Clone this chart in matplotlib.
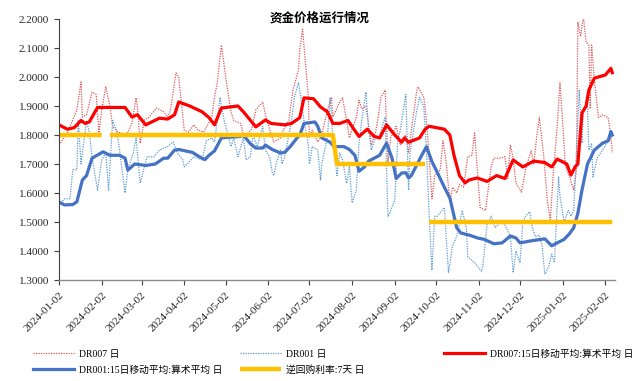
import numpy as np
import pandas as pd
import matplotlib
matplotlib.use("Agg")
import matplotlib.pyplot as plt
import matplotlib.dates as mdates
from matplotlib.lines import Line2D
from matplotlib.ticker import FormatStrFormatter

plt.rcParams['font.family'] = ['Liberation Serif', 'Noto Sans CJK SC', 'DejaVu Sans']

# DR007 日
dr007_dates = ['2024-01-02', '2024-01-08', '2024-01-12', '2024-01-15', '2024-01-18', '2024-01-19', '2024-01-22',
               '2024-01-26', '2024-01-29', '2024-01-31', '2024-02-02', '2024-02-05', '2024-02-08', '2024-02-10',
               '2024-02-14', '2024-02-20', '2024-02-24', '2024-02-27', '2024-02-28', '2024-03-01', '2024-03-04',
               '2024-03-07', '2024-03-13', '2024-03-18', '2024-03-21', '2024-03-23', '2024-03-27', '2024-03-29',
               '2024-04-02', '2024-04-05', '2024-04-09', '2024-04-12', '2024-04-16', '2024-04-19', '2024-04-22',
               '2024-04-24', '2024-04-26', '2024-04-29', '2024-05-03', '2024-05-06', '2024-05-08', '2024-05-13',
               '2024-05-15', '2024-05-17', '2024-05-21', '2024-05-24', '2024-05-29', '2024-05-31', '2024-06-03',
               '2024-06-06', '2024-06-11', '2024-06-13', '2024-06-17', '2024-06-20', '2024-06-24', '2024-06-25',
               '2024-06-26', '2024-06-27', '2024-07-01', '2024-07-02', '2024-07-04', '2024-07-08', '2024-07-11',
               '2024-07-15', '2024-07-18', '2024-07-19', '2024-07-24', '2024-07-26', '2024-07-29', '2024-07-31',
               '2024-08-02', '2024-08-05', '2024-08-07', '2024-08-09', '2024-08-12', '2024-08-14', '2024-08-16',
               '2024-08-19', '2024-08-20', '2024-08-23', '2024-08-26', '2024-08-28', '2024-08-30', '2024-09-03',
               '2024-09-06', '2024-09-10', '2024-09-12', '2024-09-13', '2024-09-18', '2024-09-19', '2024-09-23',
               '2024-09-24', '2024-09-26', '2024-09-29', '2024-10-01', '2024-10-05', '2024-10-07', '2024-10-09',
               '2024-10-12', '2024-10-14', '2024-10-17', '2024-10-19', '2024-10-22', '2024-10-25', '2024-10-28',
               '2024-10-30', '2024-11-03', '2024-11-07', '2024-11-08', '2024-11-11', '2024-11-13', '2024-11-17',
               '2024-11-21', '2024-11-23', '2024-11-25', '2024-11-27', '2024-11-29', '2024-12-03', '2024-12-06',
               '2024-12-10', '2024-12-12', '2024-12-14', '2024-12-16', '2024-12-19', '2024-12-22', '2024-12-24',
               '2024-12-26', '2024-12-29', '2024-12-31', '2025-01-02', '2025-01-04', '2025-01-07', '2025-01-10',
               '2025-01-12', '2025-01-13', '2025-01-15', '2025-01-17', '2025-01-19', '2025-01-21', '2025-01-22',
               '2025-01-23', '2025-01-25', '2025-01-28', '2025-01-31', '2025-02-04', '2025-02-06', '2025-02-07']
dr007 = [1.765, 1.807, 1.852, 1.886, 1.983, 1.862, 1.870,
         1.948, 1.940, 1.807, 1.886, 1.966, 1.900, 1.829,
         1.810, 1.800, 1.840, 1.928, 1.897, 1.772, 1.852,
         1.860, 1.893, 1.880, 1.862, 1.886, 2.014, 2.000,
         1.817, 1.810, 1.835, 1.817, 1.810, 1.835, 1.862,
         1.930, 1.980, 2.110, 1.970, 1.880, 1.850, 1.840,
         1.800, 1.800, 1.820, 1.886, 1.914, 1.870, 1.820,
         1.776, 1.790, 1.817, 1.850, 1.955, 2.024, 2.100,
         2.130, 2.165, 1.940, 1.793, 1.817, 1.776, 1.800,
         1.886, 1.928, 1.862, 1.914, 1.928, 1.850, 1.790,
         1.820, 1.860, 1.920, 1.890, 1.900, 1.835, 1.765,
         1.810, 1.835, 1.930, 1.955, 1.703, 1.790, 1.830,
         1.765, 1.800, 1.738, 1.780, 1.955, 1.966, 1.930,
         1.897, 1.790, 1.580, 1.660, 1.680, 1.780, 1.720,
         1.570, 1.620, 1.600, 1.630, 1.620, 1.725, 1.730,
         1.807, 1.550, 1.540, 1.580, 1.690, 1.720, 1.720,
         1.725, 1.650, 1.765, 1.720, 1.634, 1.603, 1.680,
         1.745, 1.700, 1.790, 1.860, 1.738, 1.566, 1.507,
         1.656, 1.829, 1.979, 1.840, 1.690, 1.656, 1.610,
         1.680, 2.190, 2.140, 2.210, 2.120, 2.110, 1.890,
         2.110, 1.990, 1.860, 1.870, 1.860, 1.800, 1.738]

# DR001 日
dr001_dates = ['2024-01-02', '2024-01-06', '2024-01-10', '2024-01-12', '2024-01-15', '2024-01-16', '2024-01-18',
               '2024-01-22', '2024-01-24', '2024-01-26', '2024-01-30', '2024-02-02', '2024-02-05', '2024-02-07',
               '2024-02-10', '2024-02-13', '2024-02-15', '2024-02-19', '2024-02-21', '2024-02-25', '2024-02-27',
               '2024-03-01', '2024-03-04', '2024-03-06', '2024-03-11', '2024-03-15', '2024-03-21', '2024-03-25',
               '2024-03-28', '2024-04-01', '2024-04-02', '2024-04-07', '2024-04-09', '2024-04-15', '2024-04-18',
               '2024-04-22', '2024-04-24', '2024-04-26', '2024-04-28', '2024-05-01', '2024-05-06', '2024-05-08',
               '2024-05-11', '2024-05-15', '2024-05-17', '2024-05-20', '2024-05-22', '2024-05-25', '2024-05-29',
               '2024-05-31', '2024-06-03', '2024-06-05', '2024-06-06', '2024-06-08', '2024-06-11', '2024-06-12',
               '2024-06-14', '2024-06-19', '2024-06-21', '2024-06-24', '2024-06-26', '2024-06-28', '2024-07-01',
               '2024-07-02', '2024-07-04', '2024-07-08', '2024-07-10', '2024-07-11', '2024-07-15', '2024-07-17',
               '2024-07-19', '2024-07-22', '2024-07-24', '2024-07-26', '2024-07-29', '2024-07-31', '2024-08-02',
               '2024-08-05', '2024-08-07', '2024-08-09', '2024-08-12', '2024-08-14', '2024-08-16', '2024-08-19',
               '2024-08-22', '2024-08-26', '2024-08-28', '2024-08-30', '2024-09-02', '2024-09-04', '2024-09-06',
               '2024-09-10', '2024-09-12', '2024-09-13', '2024-09-18', '2024-09-20', '2024-09-23', '2024-09-25',
               '2024-09-27', '2024-09-29', '2024-10-01', '2024-10-03', '2024-10-08', '2024-10-11', '2024-10-14',
               '2024-10-17', '2024-10-18', '2024-10-21', '2024-10-24', '2024-10-25', '2024-10-30', '2024-11-04',
               '2024-11-05', '2024-11-08', '2024-11-11', '2024-11-14', '2024-11-18', '2024-11-21', '2024-11-25',
               '2024-11-27', '2024-11-29', '2024-12-02', '2024-12-04', '2024-12-06', '2024-12-09', '2024-12-11',
               '2024-12-13', '2024-12-16', '2024-12-18', '2024-12-20', '2024-12-23', '2024-12-25', '2024-12-27',
               '2024-12-30', '2024-12-31', '2025-01-03', '2025-01-06', '2025-01-08', '2025-01-10', '2025-01-13',
               '2025-01-14', '2025-01-16', '2025-01-17', '2025-01-20', '2025-01-21', '2025-01-23', '2025-01-24',
               '2025-01-27', '2025-01-31', '2025-02-03', '2025-02-05', '2025-02-07']
dr001 = [1.560, 1.580, 1.580, 1.680, 1.680, 1.852, 1.700,
         1.850, 1.810, 1.725, 1.610, 1.714, 1.738, 1.610,
         1.850, 1.810, 1.748, 1.600, 1.680, 1.738, 1.790,
         1.634, 1.690, 1.725, 1.725, 1.748, 1.760, 1.776,
         1.738, 1.714, 1.690, 1.714, 1.725, 1.714, 1.780,
         1.790, 1.776, 1.850, 1.930, 1.850, 1.760, 1.790,
         1.725, 1.790, 1.714, 1.725, 1.800, 1.760, 1.830,
         1.748, 1.725, 1.670, 1.660, 1.703, 1.748, 1.700,
         1.725, 1.850, 1.930, 1.980, 1.920, 1.850, 1.772,
         1.700, 1.760, 1.748, 1.645, 1.703, 1.790, 1.930,
         1.790, 1.660, 1.738, 1.714, 1.634, 1.690, 1.566,
         1.610, 1.772, 1.850, 1.948, 1.817, 1.748, 1.790,
         1.800, 1.862, 1.518, 1.540, 1.576, 1.772, 1.817,
         1.940, 1.610, 1.738, 1.886, 1.930, 1.900, 1.748,
         1.520, 1.334, 1.520, 1.520, 1.550, 1.325, 1.420,
         1.450, 1.470, 1.540, 1.480, 1.380, 1.360, 1.330,
         1.350, 1.490, 1.520, 1.480, 1.500, 1.490, 1.450,
         1.325, 1.400, 1.360, 1.500, 1.520, 1.535, 1.480,
         1.450, 1.455, 1.420, 1.320, 1.350, 1.390, 1.360,
         1.655, 1.590, 1.500, 1.540, 1.520, 1.540, 1.850,
         1.955, 1.772, 1.876, 1.900, 1.748, 1.772, 1.655,
         1.720, 1.748, 1.772, 1.780, 1.810]

# DR007:15日移动平均:算术平均 日
ma007_dates = ['2024-01-02', '2024-01-08', '2024-01-13', '2024-01-17', '2024-01-18', '2024-01-21', '2024-01-24',
               '2024-01-30', '2024-02-19', '2024-02-24', '2024-02-28', '2024-03-05', '2024-03-15', '2024-03-21',
               '2024-03-26', '2024-03-29', '2024-04-06', '2024-04-15', '2024-04-20', '2024-04-24', '2024-04-29',
               '2024-05-11', '2024-05-15', '2024-05-24', '2024-05-31', '2024-06-04', '2024-06-14', '2024-06-19',
               '2024-06-25', '2024-06-28', '2024-07-05', '2024-07-10', '2024-07-15', '2024-07-19', '2024-07-24',
               '2024-07-30', '2024-08-04', '2024-08-07', '2024-08-13', '2024-08-18', '2024-08-22', '2024-08-27',
               '2024-09-02', '2024-09-07', '2024-09-09', '2024-09-12', '2024-09-20', '2024-09-24', '2024-09-27',
               '2024-10-08', '2024-10-12', '2024-10-15', '2024-10-19', '2024-10-23', '2024-10-26', '2024-11-01',
               '2024-11-08', '2024-11-15', '2024-11-21', '2024-11-27', '2024-12-04', '2024-12-12', '2024-12-20',
               '2024-12-25', '2024-12-29', '2025-01-05', '2025-01-08', '2025-01-11', '2025-01-13', '2025-01-16',
               '2025-01-19', '2025-01-21', '2025-01-25', '2025-02-02', '2025-02-06', '2025-02-07']
ma007 = [1.835, 1.820, 1.825, 1.845, 1.850, 1.840, 1.845,
         1.895, 1.895, 1.862, 1.870, 1.835, 1.858, 1.855,
         1.870, 1.914, 1.900, 1.880, 1.860, 1.835, 1.893,
         1.900, 1.880, 1.828, 1.852, 1.840, 1.835, 1.840,
         1.860, 1.928, 1.925, 1.897, 1.880, 1.840, 1.840,
         1.850, 1.815, 1.795, 1.820, 1.795, 1.790, 1.835,
         1.800, 1.775, 1.790, 1.775, 1.790, 1.820, 1.830,
         1.820, 1.800, 1.730, 1.660, 1.635, 1.645, 1.652,
         1.640, 1.660, 1.650, 1.714, 1.690, 1.710, 1.705,
         1.690, 1.717, 1.700, 1.662, 1.690, 1.700, 1.876,
         1.900, 1.955, 1.996, 2.007, 2.030, 2.015]

# DR001:15日移动平均:算术平均 日
ma001_dates = ['2024-01-02', '2024-01-06', '2024-01-12', '2024-01-15', '2024-01-19', '2024-01-22', '2024-01-26',
               '2024-02-03', '2024-02-08', '2024-02-15', '2024-02-19', '2024-02-21', '2024-02-26', '2024-03-05',
               '2024-03-12', '2024-03-18', '2024-03-21', '2024-03-26', '2024-03-29', '2024-04-08', '2024-04-13',
               '2024-04-17', '2024-04-20', '2024-04-24', '2024-04-29', '2024-05-13', '2024-05-15', '2024-05-20',
               '2024-05-24', '2024-05-29', '2024-05-31', '2024-06-05', '2024-06-11', '2024-06-14', '2024-06-18',
               '2024-06-23', '2024-06-25', '2024-06-28', '2024-07-06', '2024-07-08', '2024-07-11', '2024-07-17',
               '2024-07-20', '2024-07-27', '2024-07-31', '2024-08-04', '2024-08-07', '2024-08-11', '2024-08-14',
               '2024-08-18', '2024-08-22', '2024-08-27', '2024-08-31', '2024-09-03', '2024-09-07', '2024-09-10',
               '2024-09-12', '2024-09-14', '2024-09-21', '2024-09-25', '2024-09-29', '2024-10-04', '2024-10-08',
               '2024-10-12', '2024-10-17', '2024-10-20', '2024-10-26', '2024-11-01', '2024-11-06', '2024-11-13',
               '2024-11-19', '2024-11-25', '2024-11-29', '2024-12-02', '2024-12-10', '2024-12-20', '2024-12-25',
               '2024-12-29', '2025-01-03', '2025-01-07', '2025-01-10', '2025-01-13', '2025-01-16', '2025-01-20',
               '2025-01-25', '2025-01-31', '2025-02-04', '2025-02-06', '2025-02-07']
ma001 = [1.569, 1.559, 1.560, 1.570, 1.645, 1.660, 1.720,
         1.742, 1.730, 1.730, 1.720, 1.679, 1.700, 1.695,
         1.700, 1.720, 1.720, 1.748, 1.750, 1.740, 1.725,
         1.715, 1.730, 1.745, 1.790, 1.795, 1.800, 1.770,
         1.755, 1.755, 1.765, 1.750, 1.738, 1.740, 1.760,
         1.790, 1.800, 1.840, 1.845, 1.830, 1.790, 1.775,
         1.760, 1.760, 1.750, 1.730, 1.675, 1.690, 1.710,
         1.720, 1.730, 1.772, 1.720, 1.650, 1.669, 1.670,
         1.652, 1.660, 1.725, 1.760, 1.708, 1.660, 1.620,
         1.583, 1.480, 1.462, 1.455, 1.445, 1.440, 1.425,
         1.428, 1.452, 1.445, 1.428, 1.435, 1.442, 1.418,
         1.428, 1.440, 1.460, 1.480, 1.530, 1.610, 1.700,
         1.748, 1.772, 1.780, 1.812, 1.800]

# 逆回购利率:7天 日 (NaN = no operation)
rr_dates = ['2024-01-02', '2024-02-02', '2024-02-04', '2024-02-08', '2024-07-19', '2024-07-22',
            '2024-09-24', '2024-09-25', '2024-09-27', '2025-02-07']
rr = [1.8, 1.8, np.nan, 1.8, 1.8, 1.7, 1.7, np.nan, 1.5, 1.5]

tick_dates = ['2024-01-02', '2024-02-02', '2024-03-02', '2024-04-02', '2024-05-02', '2024-06-02', '2024-07-02',
              '2024-08-02', '2024-09-02', '2024-10-02', '2024-11-02', '2024-12-02', '2025-01-02', '2025-02-02']

fig = plt.figure(figsize=(6.4, 3.81), dpi=100)
ax = fig.add_axes([59 / 640, 1 - 280 / 381, (615 - 59) / 640, (280 - 19) / 381])

l1, = ax.plot(pd.to_datetime(dr007_dates), dr007, color='#e2575a', lw=0.9, ls=(0, (1, 1)))
l2, = ax.plot(pd.to_datetime(dr001_dates), dr001, color='#5b9bd5', lw=0.9, ls=(0, (1, 1)))
l3, = ax.plot(pd.to_datetime(ma007_dates), ma007, color='#ff0000', lw=2.3)
l4, = ax.plot(pd.to_datetime(ma001_dates), ma001, color='#4472c4', lw=2.3)
l5, = ax.plot(pd.to_datetime(rr_dates), rr, color='#ffc000', lw=3.2, solid_capstyle='butt')

ax.set_ylim(1.3, 2.2)
ax.set_yticks(np.arange(1.3, 2.21, 0.1))
ax.yaxis.set_major_formatter(FormatStrFormatter('%.4f'))
ax.set_xlim(pd.Timestamp('2024-01-02'), pd.Timestamp('2025-02-09'))
ax.set_xticks(pd.to_datetime(tick_dates))
ax.xaxis.set_major_formatter(mdates.DateFormatter('%Y-%m-%d'))
for lab in ax.get_xticklabels():
    lab.set_rotation(45)
    lab.set_ha('right')
    lab.set_rotation_mode('anchor')

ax.tick_params(axis='both', labelsize=8, length=3.5, width=0.8, colors='#404040', labelcolor='#262626')
ax.tick_params(axis='x', pad=4)
for s in ['top', 'right']:
    ax.spines[s].set_visible(False)
ax.spines['left'].set_color('#404040')
ax.spines['bottom'].set_color('#8c8c8c')
ax.spines['left'].set_linewidth(0.8)
ax.spines['bottom'].set_linewidth(1.0)

fig.text(0.5, 1 - 18 / 381, '资金价格运行情况', ha='center', va='center', fontsize=9, fontweight='bold',
         family=['Noto Sans CJK SC'])

entries = [(l1, 'DR007 日', 33, 354), (l2, 'DR001 日', 240, 354), (l3, 'DR007:15日移动平均:算术平均 日', 444, 354),
           (l4, 'DR001:15日移动平均:算术平均 日', 33, 370), (l5, '逆回购利率:7天 日', 240, 370)]
for h, txt, px, py in entries:
    fig.legend([h], [txt], loc='center left', bbox_to_anchor=(px / 640, 1 - py / 381), frameon=False,
               borderpad=0, borderaxespad=0, handlelength=4.2, handletextpad=0.5, fontsize=7)

fig.savefig('out.png', dpi=100)
